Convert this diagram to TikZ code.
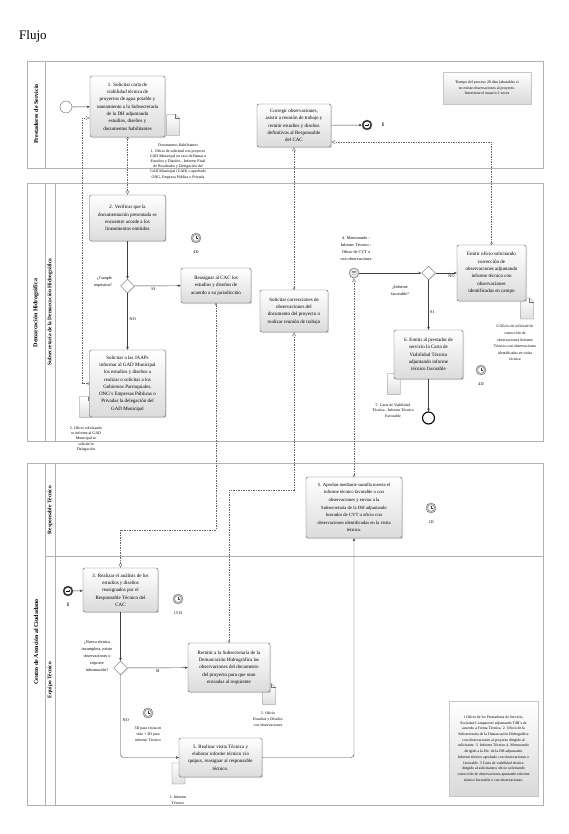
\documentclass[tikz,border=0pt]{standalone}
\usepackage{fontspec}
\setmainfont{Liberation Serif}
\usetikzlibrary{shapes.geometric,arrows.meta,shadows}

\begin{document}
\begin{tikzpicture}[
    x=1pt, y=-1pt,
    lane/.style={draw=gray!60, line width=0.7pt},
    lanetxt/.style={rotate=90, font=\fontsize{6}{7}\selectfont\bfseries, inner sep=0pt},
    task/.style={draw=black!65, rounded corners=2pt, top color=white, bottom color=gray!28, drop shadow={shadow xshift=1.2pt, shadow yshift=-1.2pt, fill=gray!55}, align=center, inner sep=1pt, font=\fontsize{5}{7.3}\selectfont},
    note/.style={draw=gray!45, top color=white, bottom color=gray!30, drop shadow={shadow xshift=1.2pt, shadow yshift=-1.2pt, fill=gray!40}, align=center, inner sep=1pt},
    gate/.style={diamond, aspect=1, draw=black!60, fill=white, minimum size=14pt, inner sep=0pt, drop shadow={shadow xshift=0.8pt, shadow yshift=-0.8pt, fill=gray!45}},
    evstart/.style={circle, draw=black!60, fill=white, minimum size=12pt, inner sep=0pt},
    evend/.style={circle, draw=black, line width=1.1pt, fill=white, minimum size=12pt, inner sep=0pt},
    evlink/.style={circle, draw=black!70, fill=black!80, minimum size=10pt, inner sep=0pt,
        path picture={\fill[white] (path picture bounding box.center) circle (3.3pt);
            \draw[black, line width=0.8pt, -{Stealth[length=1.6pt,width=2.2pt]}] ([xshift=-2.2pt]path picture bounding box.center) -- ([xshift=2.3pt]path picture bounding box.center);}},
    evmsg/.style={circle, draw=black!55, fill=gray!40, minimum size=10pt, inner sep=0pt,
        path picture={\fill[white] (path picture bounding box.center) circle (3.4pt);
            \draw[black!70, line width=0.3pt] ([xshift=-2pt,yshift=-1.4pt]path picture bounding box.center) rectangle ([xshift=2pt,yshift=1.4pt]path picture bounding box.center)
            ([xshift=-2pt,yshift=1.4pt]path picture bounding box.center) -- (path picture bounding box.center) -- ([xshift=2pt,yshift=1.4pt]path picture bounding box.center);}},
    timer/.style={circle, draw=black!55, fill=gray!45, minimum size=10pt, inner sep=0pt,
        path picture={\fill[white] (path picture bounding box.center) circle (3.3pt);
            \draw[black!60, line width=0.3pt] (path picture bounding box.center) circle (3.3pt);
            \draw[black!75, line width=0.35pt] (path picture bounding box.center) -- ++(0pt,2.4pt) (path picture bounding box.center) -- ++(1.8pt,0pt);}},
    lbl/.style={align=center, inner sep=0pt, font=\fontsize{4.2}{7}\selectfont},
    small/.style={align=center, inner sep=0pt, font=\fontsize{3.9}{5.2}\selectfont},
    docu/.pic={
        \draw[black!55, line width=0.3pt, top color=white, bottom color=gray!25] (-6.5,-10.5) -- (2.5,-10.5) -- (6.5,-6.5) -- (6.5,10.5) -- (-6.5,10.5) -- cycle;
        \draw[black!55, line width=0.3pt] (2.5,-10.5) -- (2.5,-6.5) -- (6.5,-6.5);
    },
    arrow/.style={draw=black!75, line width=0.45pt, -{Stealth[length=3pt,width=2.6pt]}},
    msgflow/.style={draw=black!60, line width=0.4pt, dash pattern=on 1.5pt off 1pt, {Circle[open,length=2.4pt]}-{Triangle[open,length=4pt,width=3.6pt]}}
]
    \useasboundingbox (0,0) rectangle (568,834);

    % Title
    \node[font=\fontsize{13}{15}\selectfont, anchor=base west, inner sep=0pt] (titulo) at (19,40) {Flujo};

    % Pools and lanes
    \draw[lane] (27,61) rectangle (543,168);
    \draw[lane] (45,61) -- (45,168);
    \draw[lane] (27,183) rectangle (543,441);
    \draw[lane] (45,183) -- (45,441);
    \draw[lane] (55,183) -- (55,441);
    \draw[lane] (27,463) rectangle (543,805);
    \draw[lane] (45,463) -- (45,805);
    \draw[lane] (55,463) -- (55,805);
    \draw[lane] (45,556) -- (543,556);

    \node[lanetxt] (lprest) at (36,114) {Prestadores de Servicio};
    \node[lanetxt] (ldemar) at (36,313) {Demarcación Hidrográfica};
    \node[lanetxt, font=\fontsize{5.4}{6}\selectfont\bfseries] (lsubs) at (50,312) {Subsecretaría de la Demarcación Hidrográfica};
    \node[lanetxt] (lcentro) at (36,642) {Centro de Atención al Ciudadano};
    \node[lanetxt, font=\fontsize{5.4}{6}\selectfont\bfseries] (lresp) at (50,510) {Responsable Técnico};
    \node[lanetxt, font=\fontsize{5.4}{6}\selectfont\bfseries] (lequipo) at (50,680) {Equipo Técnico};

    % Data objects
    \pic at (173,125) {docu};
    \pic at (86,407) {docu};
    \pic at (527,308.5) {docu};
    \pic at (394,384) {docu};
    \pic at (269,694) {docu};
    \pic at (178.5,773.5) {docu};

    % Prestadores de Servicio
    \node[evstart] (inicio) at (66,107) {};
    \node[task, minimum width=75pt, minimum height=61pt] (t1) at (127.5,106.5) {1. Solicitar carta de\\viabilidad técnica de\\proyectos de agua potable y\\saneamiento a la Subsecretaría\\de la DH adjuntando\\estudios, diseños y\\documentos habilitantes};
    \node[task, minimum width=74pt, minimum height=43pt] (cor) at (294,125.5) {Corregir observaciones,\\asistir a reunión de trabajo y\\remitir estudios y diseños\\definitivos al Responsable\\del CAC};
    \node[evlink] (fin1) at (367,125) {};
    \node[lbl, font=\fontsize{5.5}{6}\selectfont\bfseries] (luno) at (383,125) {1};
    \node[note, minimum width=88pt, minimum height=32pt, font=\fontsize{3.9}{5.6}\selectfont] (nota1) at (487,88) {Tiempo del proceso 20 días laborables si\\no existe observaciones al proyecto.\\Interviene el usuario 2 veces};
    \node[small] (ldoc1) at (178,161.5) {Documentos Habilitantes\\1. Oficio de solicitud con proyecto\\GAD Municipal en caso de llamar a\\Estudios y Diseños - Informe Final\\de Resultados y Delegación del\\GAD Municipal (GAD) o aprobado\\ONG, Empresa Pública o Privada};

    % Subsecretaria de la Demarcacion Hidrografica
    \node[task, minimum width=76pt, minimum height=46pt] (t2) at (127.5,218) {2. Verificar que la\\documentación presentada se\\encuentre acorde a los\\lineamientos emitidos};
    \node[timer] (tm1) at (196,238) {};
    \node[lbl] (ltm1) at (196,252) {4D};
    \node[gate] (g1) at (127.5,286) {};
    \node[lbl, align=right] (lcumple) at (103,281.5) {¿Cumple\\requisitos?};
    \node[task, minimum width=70pt, minimum height=35pt] (reas) at (216,285.5) {Reasignar al CAC los\\estudios y diseños de\\acuerdo a su jurisdicción};
    \node[task, minimum width=76pt, minimum height=67pt] (jaap) at (127.5,383.5) {Solicitar a las JAAPs\\informar al GAD Municipal\\los estudios y diseños a\\realizar o solicitar a los\\Gobiernos Parroquiales,\\ONG's Empresas Públicas o\\Privadas la delegación del\\GAD Municipal};
    \node[small] (ldoc2) at (86,439) {2. Oficio solicitando\\se informe al GAD\\Municipal se\\solicite la\\Delegación};
    \node[task, minimum width=68pt, minimum height=42pt] (solc) at (294,311) {Solicitar correcciones de\\observaciones del\\documento del proyecto o\\realizar reunión de trabajo};
    \node[evmsg] (ev4) at (354,273) {};
    \node[lbl] (lev4) at (356,248.5) {4. Memorando -\\Informe Técnico -\\Oficio de CVT o\\con observaciones};
    \node[gate] (g2) at (428.5,273) {};
    \node[lbl] (lfav) at (400,290.5) {¿Informe\\favorable?};
    \node[task, minimum width=69pt, minimum height=56pt] (emit) at (491.5,273) {Emitir oficio solicitando\\corrección de\\observaciones adjuntando\\informe técnico con\\observaciones\\identificadas en campo};
    \node[small, font=\fontsize{3.9}{6.6}\selectfont] (ldoc6) at (515,343) {6 Oficio de solicitud de\\corrección de\\observaciones Informe\\Técnico con observaciones\\identificadas en visita\\técnica};
    \node[task, minimum width=69pt, minimum height=49pt] (t6) at (428.5,354.5) {6. Emitir al prestador de\\servicio la Carta de\\Viabilidad Técnica\\adjuntando informe\\técnico favorable};
    \node[timer] (tm2) at (481,370) {};
    \node[lbl] (ltm2) at (481,384) {4D};
    \node[small] (ldoc5) at (393,410.5) {5. Carta de Viabilidad\\Técnica - Informe Técnico\\Favorable};
    \node[evend] (fin2) at (428.5,418) {};

    % Responsable Tecnico
    \node[task, minimum width=96pt, minimum height=61pt, font=\fontsize{4.7}{7.6}\selectfont] (t5) at (354,507.5) {5. Aprobar mediante sumilla inserta el\\informe técnico favorable o con\\observaciones y enviar a la\\Subsecretaría de la DH adjuntando\\borrador de CVT u oficio con\\observaciones identificadas en la visita\\técnica.};
    \node[timer] (tm3) at (431,508) {};
    \node[lbl] (ltm3) at (431,522) {1D};

    % Equipo Tecnico
    \node[evlink] (inicio2) at (68,591) {};
    \node[lbl, font=\fontsize{5.5}{6}\selectfont\bfseries] (luno2) at (68,605) {1};
    \node[task, minimum width=75pt, minimum height=44pt] (t3) at (120.5,590) {3. Realizar el análisis de los\\estudios y diseños\\reasignados por el\\Responsable Técnico del\\CAC};
    \node[timer] (tm4) at (178,599) {};
    \node[lbl] (ltm4) at (178,613) {15 D};
    \node[gate] (g3) at (120.5,668) {};
    \node[lbl] (lnueva) at (97,656) {¿Nueva técnica\\incompleta, existe\\observaciones o\\requiere\\información?};
    \node[task, minimum width=82pt, minimum height=49pt] (remi) at (229,667.5) {Remitir a la Subsecretaría de la\\Demarcación Hidrográfica las\\observaciones del documento\\del proyecto para que sean\\enviadas al requirente};
    \node[small, font=\fontsize{3.9}{6}\selectfont] (ldoc3) at (268,719) {2. Oficio\\Estudios y Diseños\\con observaciones};
    \node[timer] (tm5) at (148,713) {};
    \node[small, font=\fontsize{3.9}{6}\selectfont] (ltm5) at (148,734) {3D para visita en\\sitio + 3D para\\informe Técnico};
    \node[task, minimum width=83pt, minimum height=39pt] (vis) at (220.5,757.5) {5. Realizar visita Técnica y\\elaborar informe técnico vía\\quipux, reasignar al responsable\\técnico.};
    \node[small, font=\fontsize{3.9}{6}\selectfont] (ldoc4) at (178,800) {3. Informe\\Técnico};
    \node[note, minimum width=89pt, minimum height=95pt, font=\fontsize{3.8}{5.7}\selectfont] (nota2) at (493.5,748.5) {1 Oficio de los Prestadores de Servicio,\\Sociedad Comparecer adjuntando TdR's de\\acuerdo a Forma Técnica. 2. Oficio de la\\Subsecretaría de la Demarcación Hidrográfica\\con observaciones al proyecto dirigido al\\solicitante. 3. Informe Técnico 4. Memorando\\dirigido a la Dir. de la DH adjuntando\\Informe técnico aprobado con observaciones o\\favorable. 5 Carta de viabilidad técnica\\dirigido al solicitante u oficio solicitando\\corrección de observaciones ajuntando informe\\técnico favorable o con observaciones.};

    % Sequence flows
    \draw[arrow] (inicio) -- (t1);
    \draw[arrow] (cor) -- (fin1);
    \draw[arrow] (t2) -- (g1);
    \draw[arrow] (g1) -- node[lbl, pos=0.4, below=2pt] (lsi1) {SI} (reas);
    \draw[arrow] (g1) -- node[lbl, pos=0.45, right=2pt] (lno1) {NO} (jaap);
    \draw[arrow] (ev4) -- (g2);
    \draw[arrow] (g2) -- node[lbl, pos=0.75, below=1.5pt] (lno2) {NO} (emit);
    \draw[arrow] (g2) -- node[lbl, pos=0.64, right=1.5pt] (lsi2) {SI} (t6);
    \draw[arrow] (t6) -- (fin2);
    \draw[arrow] (inicio2) -- (t3);
    \draw[arrow] (t3) -- (g3);
    \draw[arrow] (g3) -- node[lbl, pos=0.5, below=2pt] (lsi3) {SI} (remi);
    \draw[arrow, rounded corners=3pt] (g3) |- node[lbl, pos=0.27, right=2pt] (lno3) {NO} (vis);
    \draw[arrow, rounded corners=3pt] (vis) -| (t5);

    % Message flows
    \coordinate (m1) at (82,118);
    \coordinate (m3) at (491.5,142);
    \coordinate (m5) at (216,530);
    \coordinate (m6) at (294,490);
    \draw[msgflow] (jaap.west) -| (m1) -- (t1.west |- m1);
    \draw[msgflow] (t1.south) -- (t1.south |- t2.north);
    \draw[msgflow] (emit.north) -- (m3) -- (cor.east |- m3);
    \draw[msgflow] (solc.north) -- (cor.south);
    \draw[msgflow] (reas.south) -- (m5) -| (t3.north);
    \draw[msgflow] (remi.north) |- (m6) -- (solc.south);
    \draw[msgflow] (t5.north) -- (ev4.south);
\end{tikzpicture}
\end{document}
